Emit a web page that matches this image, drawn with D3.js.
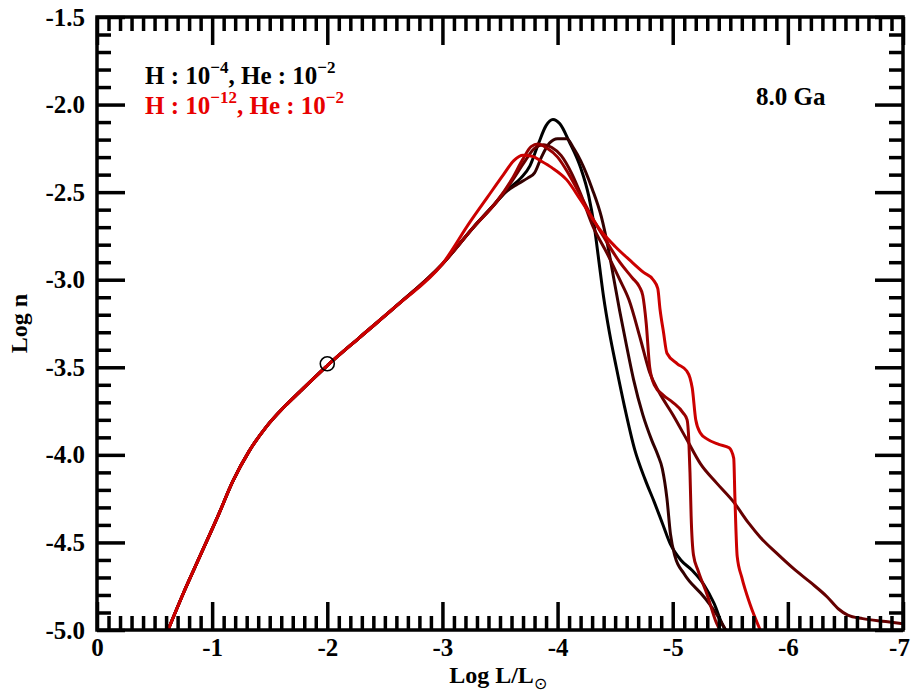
<!DOCTYPE html>
<html>
<head>
<meta charset="utf-8">
<script src="https://cdn.jsdelivr.net/npm/d3@7"></script>
<style>
  html, body { margin: 0; padding: 0; background: #fff; }
  svg text { font-family: "Liberation Serif", "Times New Roman", serif; font-weight: bold; }
</style>
</head>
<body>
<svg id="chart" width="912" height="691"></svg>
<script>
// ---------- data ----------
const xMajorTicks = [0, -1, -2, -3, -4, -5, -6, -7];
const yMajorTicks = [-1.5, -2.0, -2.5, -3.0, -3.5, -4.0, -4.5, -5.0];
const xLabel = "Log L/L";
const yLabel = "Log n";
const ageLabel = "8.0 Ga";

// common low-luminosity branch shared by all curves  [Log L, Log n]
const trunk = [
  [-0.617, -5.0], [-0.75, -4.79], [-0.90, -4.57], [-1.05, -4.35], [-1.18, -4.15],
  [-1.32, -3.98], [-1.47, -3.84], [-1.62, -3.73], [-1.76, -3.64], [-2.0, -3.49],
  [-2.28, -3.33], [-2.6, -3.15], [-3.0, -2.91]
];

const tailH4 = [  // black
  [-3.27, -2.70], [-3.45, -2.57], [-3.56, -2.49], [-3.68, -2.42], [-3.76, -2.35],
  [-3.83, -2.23], [-3.90, -2.12], [-3.96, -2.085], [-4.02, -2.11], [-4.10, -2.21],
  [-4.20, -2.36], [-4.27, -2.52], [-4.32, -2.70], [-4.36, -2.90], [-4.40, -3.10],
  [-4.45, -3.30], [-4.51, -3.50], [-4.58, -3.72], [-4.67, -3.97], [-4.76, -4.14],
  [-4.84, -4.27], [-4.91, -4.39], [-4.98, -4.51], [-5.07, -4.60], [-5.17, -4.66],
  [-5.27, -4.74], [-5.36, -4.85], [-5.44, -4.98], [-5.46, -5.0]
];
const tailB = [   // darkest brown
  [-3.27, -2.70], [-3.45, -2.57], [-3.55, -2.50], [-3.65, -2.455], [-3.74, -2.42],
  [-3.80, -2.39], [-3.86, -2.30], [-3.93, -2.22], [-4.0, -2.195], [-4.08, -2.195],
  [-4.14, -2.25], [-4.20, -2.32], [-4.30, -2.48], [-4.38, -2.64], [-4.44, -2.82],
  [-4.49, -3.0], [-4.54, -3.18], [-4.60, -3.38], [-4.66, -3.57], [-4.74, -3.77],
  [-4.82, -3.92], [-4.87, -4.0], [-4.91, -4.08], [-4.95, -4.25], [-4.98, -4.45],
  [-5.02, -4.58], [-5.10, -4.68], [-5.27, -4.81], [-5.40, -4.93], [-5.46, -5.0]
];
const tailC = [   // maroon, long tail
  [-3.27, -2.70], [-3.47, -2.555], [-3.6, -2.44], [-3.72, -2.32], [-3.80, -2.25],
  [-3.88, -2.23], [-3.95, -2.245], [-4.03, -2.29], [-4.12, -2.39], [-4.20, -2.51],
  [-4.31, -2.70], [-4.43, -2.85], [-4.54, -3.0], [-4.62, -3.115], [-4.72, -3.34],
  [-4.80, -3.53], [-4.88, -3.64], [-5.0, -3.77], [-5.12, -3.91], [-5.24, -4.05],
  [-5.38, -4.16], [-5.53, -4.27], [-5.66, -4.39], [-5.76, -4.47], [-5.90, -4.56],
  [-6.05, -4.65], [-6.20, -4.73], [-6.34, -4.81], [-6.44, -4.88], [-6.52, -4.915],
  [-6.65, -4.935], [-6.85, -4.952], [-7.0, -4.965]
];
const tailD = [   // dark red, stepped
  [-3.27, -2.70], [-3.47, -2.555], [-3.6, -2.43], [-3.70, -2.31], [-3.77, -2.24],
  [-3.83, -2.225], [-3.91, -2.25], [-4.0, -2.30], [-4.10, -2.40], [-4.20, -2.52],
  [-4.28, -2.62], [-4.40, -2.755], [-4.54, -2.90], [-4.65, -2.99], [-4.71, -3.04],
  [-4.74, -3.09], [-4.77, -3.25], [-4.80, -3.50], [-4.84, -3.60], [-4.92, -3.66],
  [-5.0, -3.70], [-5.09, -3.76], [-5.125, -3.80], [-5.14, -3.92], [-5.15, -4.1],
  [-5.16, -4.35], [-5.18, -4.57], [-5.22, -4.66], [-5.30, -4.80], [-5.38, -4.96],
  [-5.41, -5.0]
];
const tailH12 = [ // red
  [-3.24, -2.67], [-3.39, -2.53], [-3.53, -2.40], [-3.62, -2.32], [-3.70, -2.29],
  [-3.78, -2.295], [-3.85, -2.32], [-3.95, -2.36], [-4.08, -2.43], [-4.20, -2.545],
  [-4.37, -2.716], [-4.50, -2.81], [-4.63, -2.89], [-4.75, -2.96], [-4.83, -3.0],
  [-4.87, -3.05], [-4.89, -3.17], [-4.92, -3.30], [-4.95, -3.42], [-5.04, -3.48],
  [-5.12, -3.52], [-5.15, -3.56], [-5.17, -3.62], [-5.20, -3.80], [-5.24, -3.875],
  [-5.30, -3.91], [-5.40, -3.94], [-5.49, -3.96], [-5.53, -4.02], [-5.54, -4.24],
  [-5.56, -4.58], [-5.60, -4.70], [-5.67, -4.85], [-5.76, -5.0]
];

const seriesColors = ["#000000", "#330000", "#660000", "#990000", "#cc0000"];
const seriesTails = [tailH4, tailB, tailC, tailD, tailH12];

const markerPoint = [-2.0, -3.48];

// ---------- layout ----------
const W = 912, H = 691;
const margin = { left: 97, right: 9, top: 17, bottom: 61 };
const pw = W - margin.left - margin.right;
const ph = H - margin.top - margin.bottom;

const svg = d3.select("#chart");
const g = svg.append("g").attr("transform", `translate(${margin.left},${margin.top})`);

const x = d3.scaleLinear().domain([0, -7]).range([0, pw]);
const y = d3.scaleLinear().domain([-5.0, -1.5]).range([ph, 0]);

const clipId = "plotclip";
svg.append("defs").append("clipPath").attr("id", clipId)
  .append("rect").attr("x", 0).attr("y", 0).attr("width", pw).attr("height", ph);

// curves
const line = d3.line().x(d => x(d[0])).y(d => y(d[1])).curve(d3.curveMonotoneX);
const curves = g.append("g").attr("clip-path", `url(#${clipId})`);
seriesTails.forEach((tail, i) => {
  const data = trunk.concat(tail);
  curves.append("path")
    .datum(data)
    .attr("d", line)
    .attr("fill", "none")
    .attr("stroke", seriesColors[i])
    .attr("stroke-width", 3)
    .attr("stroke-linejoin", "round")
    .attr("stroke-linecap", "round");
});

// marker
g.append("circle")
  .attr("cx", x(markerPoint[0])).attr("cy", y(markerPoint[1]))
  .attr("r", 7).attr("fill", "none").attr("stroke", "#000").attr("stroke-width", 1.6);

// ticks
const xMinor = d3.range(0, 71).map(i => -i / 10).filter(v => !xMajorTicks.some(m => Math.abs(m - v) < 1e-9));
const yMinor = d3.range(0, 36).map(i => -1.5 - i / 10).filter(v => !yMajorTicks.some(m => Math.abs(m - v) < 1e-9));

const minorLen = 14, majorLen = 28, tickW = 3.5;

function styleAxis(sel) {
  sel.select(".domain").remove();
  sel.selectAll(".tick line").attr("stroke", "#000").attr("stroke-width", tickW);
  sel.selectAll(".tick text").attr("fill", "#000").style("font-size", "25px")
    .style("font-family", "'Liberation Serif', serif").style("font-weight", "bold");
}

// bottom
g.append("g").attr("transform", `translate(0,${ph})`)
  .call(d3.axisBottom(x).tickValues(xMinor).tickSize(-minorLen).tickFormat(""))
  .call(styleAxis);
const xAxisMajor = g.append("g").attr("transform", `translate(0,${ph})`)
  .call(d3.axisBottom(x).tickValues(xMajorTicks).tickSize(-majorLen).tickPadding(8)
    .tickFormat(d => d === 0 ? "0" : String(d)))
  .call(styleAxis);
// keep the last label inside the picture
xAxisMajor.selectAll(".tick text").filter(d => d === -7).attr("dx", -4);
// top
g.append("g")
  .call(d3.axisTop(x).tickValues(xMinor).tickSize(-minorLen).tickFormat(""))
  .call(styleAxis);
g.append("g")
  .call(d3.axisTop(x).tickValues(xMajorTicks).tickSize(-majorLen).tickFormat(""))
  .call(styleAxis);
// left
g.append("g")
  .call(d3.axisLeft(y).tickValues(yMinor).tickSize(-minorLen).tickFormat(""))
  .call(styleAxis);
g.append("g")
  .call(d3.axisLeft(y).tickValues(yMajorTicks).tickSize(-majorLen).tickPadding(12)
    .tickFormat(d => d.toFixed(1)))
  .call(styleAxis);
// right
g.append("g").attr("transform", `translate(${pw},0)`)
  .call(d3.axisRight(y).tickValues(yMinor).tickSize(-minorLen).tickFormat(""))
  .call(styleAxis);
g.append("g").attr("transform", `translate(${pw},0)`)
  .call(d3.axisRight(y).tickValues(yMajorTicks).tickSize(-majorLen).tickFormat(""))
  .call(styleAxis);

// frame
g.append("rect").attr("x", 0).attr("y", 0).attr("width", pw).attr("height", ph)
  .attr("fill", "none").attr("stroke", "#000").attr("stroke-width", 3.5);

// axis titles
const xt = svg.append("text")
  .attr("x", margin.left + pw / 2 - 2).attr("y", H - 8)
  .attr("text-anchor", "middle").style("font-size", "24px").attr("fill", "#000");
xt.append("tspan").text(xLabel);
xt.append("tspan").attr("dy", 6).style("font-size", "16px").style("font-weight", "normal").text("\u2299");

svg.append("text")
  .attr("transform", `translate(27,${margin.top + ph / 2}) rotate(-90)`)
  .attr("text-anchor", "middle").style("font-size", "24px").attr("fill", "#000")
  .text(yLabel);

// legend
function legendLine(yPos, color, hExp, heExp) {
  const t = svg.append("text").attr("x", 145).attr("y", yPos).attr("fill", color).style("font-size", "25px");
  t.append("tspan").text("H : 10");
  t.append("tspan").attr("dy", -11).style("font-size", "17px").text("\u2212" + hExp);
  t.append("tspan").attr("dy", 11).text(", He : 10");
  t.append("tspan").attr("dy", -11).style("font-size", "17px").text("\u2212" + heExp);
}
legendLine(84, "#000000", "4", "2");
legendLine(114, "#e80000", "12", "2");

svg.append("text").attr("x", 756).attr("y", 105).attr("fill", "#000")
  .style("font-size", "25px").text(ageLabel);
</script>
</body>
</html>
